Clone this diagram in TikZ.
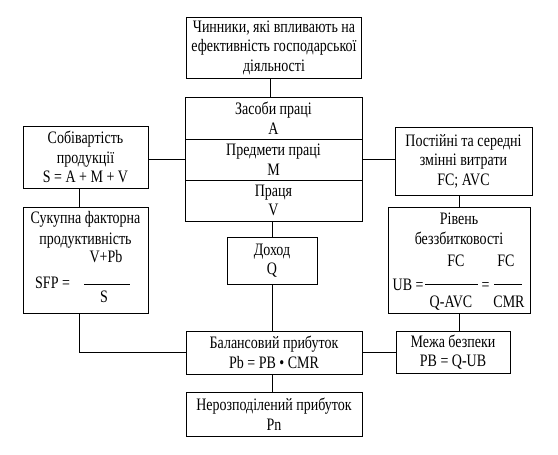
\documentclass[tikz,border=0pt]{standalone}
\usepackage{fontspec}
\setmainfont{Liberation Serif}[FakeStretch=0.8]
\begin{document}
\begin{tikzpicture}[x=1pt,y=-1pt,
  every node/.style={font=\fontsize{17.5}{19.5}\selectfont, inner sep=0pt},
  box/.style={draw, line width=0.9pt, align=center},
  txt/.style={anchor=base},
  lnk/.style={line width=0.9pt}]
\useasboundingbox (0,0) rectangle (558,455);

\node[box, minimum width=175, minimum height=61] (top) at (274,47.5) {Чинники, які впливають на\\ефективність господарської\\діяльності};

\node[box, minimum width=177, minimum height=42] (sa) at (273.5,118) {Засоби праці\\A};
\node[box, minimum width=177, minimum height=41] (sm) at (273.5,159.5) {Предмети праці\\M};
\node[box, minimum width=177, minimum height=41] (sv) at (273.5,200.5) {Праця\\V};

\node[box, minimum width=125, minimum height=62] (sob) at (85.5,157) {Собівартість\\продукції\\S = A + M + V};
\node[box, minimum width=125, minimum height=106] (suk) at (85.5,260) {};
\node[txt] (suk1) at (85.5,223) {Сукупна факторна};
\node[txt] (suk2) at (85.5,244) {продуктивність};
\node[txt] (suk3) at (106,262) {V+Pb};
\node[txt, anchor=base west] (suk4) at (35,288) {SFP =};
\node[txt] (suk5) at (104,302) {S};
\draw[lnk] (84,284) -- (130,284);

\node[box, minimum width=137, minimum height=68] (post) at (463.5,161) {Постійні та середні\\змінні витрати\\FC; AVC};
\node[box, minimum width=142, minimum height=106] (riv) at (459,260) {};
\node[txt] (riv1) at (459,224) {Рівень};
\node[txt] (riv2) at (459,244) {беззбитковості};
\node[txt] (riv3) at (456,266) {FC};
\node[txt] (riv4) at (506,266) {FC};
\node[txt, anchor=base west] (riv5) at (392.5,290) {UB =};
\node[txt] (riv6) at (485.5,290) {=};
\node[txt] (riv7) at (451,307) {Q-AVC};
\node[txt] (riv8) at (509,307) {CMR};
\draw[lnk] (425,284) -- (478,284);
\draw[lnk] (494,284) -- (522,284);

\node[box, minimum width=90, minimum height=47] (doh) at (272,260.5) {Доход\\Q};
\node[box, minimum width=176, minimum height=43] (bal) at (274,352.5) {Балансовий прибуток\\Pb = PB • CMR};
\node[box, minimum width=176, minimum height=44] (ner) at (274,414) {Нерозподілений прибуток\\Pn};
\node[box, minimum width=114, minimum height=42] (mez) at (453,352) {Межа безпеки\\PB = Q-UB};

\coordinate (cx) at (272,0);
\coordinate (lx) at (79,0);
\coordinate (rx) at (459,0);
\coordinate (tx) at (270,0);

\draw[lnk] (top.south -| tx) -- (sa.north -| tx);
\draw[lnk] (sm.west -| sob.east) -- (sm.west);
\draw[lnk] (sm.east) -- (sm.east -| post.west);
\draw[lnk] (sv.south -| cx) -- (doh.north -| cx);
\draw[lnk] (doh.south -| cx) -- (bal.north -| cx);
\draw[lnk] (bal.south -| cx) -- (ner.north -| cx);
\draw[lnk] (sob.south -| lx) -- (suk.north -| lx);
\draw[lnk] (suk.south -| lx) |- (bal.west);
\draw[lnk] (post.south -| rx) -- (riv.north -| rx);
\draw[lnk] (riv.south -| rx) -- (mez.north -| rx);
\draw[lnk] (bal.east) -- (bal.east -| mez.west);
\end{tikzpicture}
\end{document}
